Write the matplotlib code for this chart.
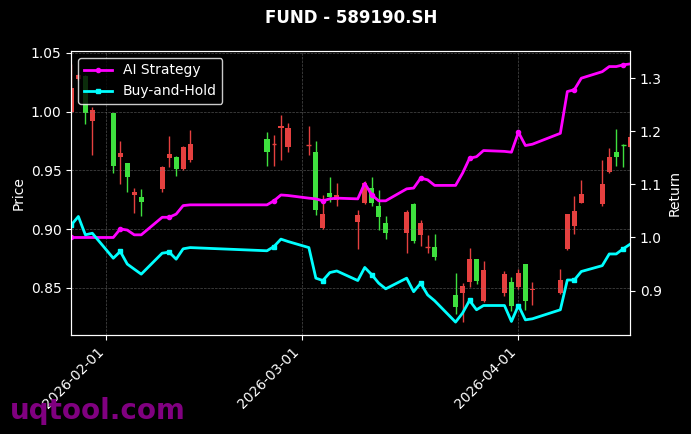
import matplotlib
matplotlib.use("Agg")

import matplotlib.pyplot as plt
import matplotlib.dates as mdates
import pandas as pd

# ---------------------------------------------------------------------------
# Data
# ---------------------------------------------------------------------------
dates = [
    "2026-01-27", "2026-01-28", "2026-01-29", "2026-01-30",
    "2026-02-02", "2026-02-03", "2026-02-04", "2026-02-05", "2026-02-06",
    "2026-02-09", "2026-02-10", "2026-02-11", "2026-02-12", "2026-02-13",
    "2026-02-24", "2026-02-25", "2026-02-26", "2026-02-27",
    "2026-03-02", "2026-03-03", "2026-03-04", "2026-03-05", "2026-03-06",
    "2026-03-09", "2026-03-10", "2026-03-11", "2026-03-12", "2026-03-13",
    "2026-03-16", "2026-03-17", "2026-03-18", "2026-03-19", "2026-03-20",
    "2026-03-23", "2026-03-24", "2026-03-25", "2026-03-26", "2026-03-27",
    "2026-03-30", "2026-03-31", "2026-04-01", "2026-04-02", "2026-04-03",
    "2026-04-07", "2026-04-08", "2026-04-09", "2026-04-10",
    "2026-04-13", "2026-04-14", "2026-04-15", "2026-04-16", "2026-04-17",
]

opens = [
    1.000, 1.028, 1.030, 0.992,
    0.999, 0.961, 0.956, 0.929, 0.927,
    0.934, 0.9605, 0.961, 0.951, 0.959,
    0.977, 0.9725, 0.986, 0.970,
    0.9715, 0.966, 0.901, 0.931, 0.9245,
    0.906, 0.922, 0.935, 0.920, 0.9055,
    0.8965, 0.9216, 0.895, 0.885, 0.885,
    0.844, 0.8455, 0.855, 0.8745, 0.839,
    0.846, 0.855, 0.851, 0.870, 0.848,
    0.8455, 0.883, 0.903, 0.9225,
    0.921, 0.949, 0.9656, 0.972, 0.970,
]
closes = [
    1.020, 1.031, 0.999, 1.001,
    0.954, 0.965, 0.944, 0.932, 0.923,
    0.953, 0.964, 0.951, 0.970, 0.972,
    0.966, 0.973, 0.988, 0.986,
    0.972, 0.916, 0.913, 0.927, 0.929,
    0.912, 0.939, 0.9225, 0.910, 0.897,
    0.915, 0.890, 0.9055, 0.8855, 0.876,
    0.834, 0.8514, 0.8745, 0.856, 0.865,
    0.862, 0.835, 0.8624, 0.839, 0.849,
    0.8567, 0.9126, 0.9154, 0.9295,
    0.9385, 0.961, 0.961, 0.9715, 0.978,
]
highs = [
    1.0405, 1.032, 1.031, 1.004,
    0.999, 0.975, 0.956, 0.935, 0.934,
    0.954, 0.979, 0.962, 0.971, 0.984,
    0.983, 0.980, 0.997, 0.990,
    0.988, 0.975, 0.929, 0.944, 0.939,
    0.916, 0.941, 0.944, 0.933, 0.911,
    0.916, 0.922, 0.908, 0.895, 0.896,
    0.863, 0.854, 0.884, 0.875, 0.873,
    0.8646, 0.8596, 0.866, 0.870, 0.8553,
    0.866, 0.913, 0.928, 0.942,
    0.959, 0.969, 0.985, 0.972, 0.982,
]
lows = [
    0.999, 1.027, 0.989, 0.963,
    0.948, 0.938, 0.932, 0.914, 0.911,
    0.932, 0.953, 0.945, 0.950, 0.957,
    0.954, 0.954, 0.959, 0.966,
    0.963, 0.912, 0.900, 0.923, 0.920,
    0.883, 0.921, 0.920, 0.899, 0.892,
    0.880, 0.888, 0.886, 0.880, 0.874,
    0.828, 0.821, 0.8505, 0.853, 0.838,
    0.8435, 0.8308, 0.849, 0.831, 0.8358,
    0.845, 0.882, 0.896, 0.922,
    0.9196, 0.948, 0.954, 0.953, 0.969,
]

ai_strategy = [
    1.000, 1.000, 1.000, 1.000,
    1.000, 1.016, 1.014, 1.005, 1.005,
    1.038, 1.038, 1.044, 1.060, 1.0614,
    1.0614, 1.069, 1.080, 1.079,
    1.074, 1.0727, 1.069, 1.0727, 1.074,
    1.0727, 1.102, 1.080, 1.069, 1.069,
    1.0915, 1.093, 1.1116, 1.1085, 1.098,
    1.098, 1.121, 1.149, 1.152, 1.1636,
    1.162, 1.1605, 1.198, 1.173, 1.1755,
    1.196, 1.2746, 1.278, 1.2997,
    1.312, 1.3216, 1.3216, 1.3248, 1.3266,
]
buy_hold = [
    1.0238, 1.0395, 1.005, 1.008,
    0.961, 0.9737, 0.950, 0.9404, 0.931,
    0.9705, 0.9724, 0.9592, 0.9787, 0.981,
    0.975, 0.983, 0.9969, 0.9925,
    0.981, 0.9235, 0.919, 0.934, 0.937,
    0.919, 0.9436, 0.930, 0.914, 0.9034,
    0.9235, 0.898, 0.914, 0.892, 0.881,
    0.8408, 0.8577, 0.8815, 0.864, 0.872,
    0.872, 0.842, 0.872, 0.845, 0.847,
    0.864, 0.920, 0.920, 0.936,
    0.947, 0.969, 0.969, 0.9787, 0.9875,
]

title = "FUND - 589190.SH"

UP = "#e5403f"
DOWN = "#3ee03e"

# ---------------------------------------------------------------------------
# Figure
# ---------------------------------------------------------------------------
x = mdates.date2num(pd.to_datetime(dates))

fig = plt.figure(figsize=(6.91, 4.34), dpi=100, facecolor="black")
ax = fig.add_axes([0.1033, 0.2281, 0.8087, 0.6544])
ax.set_facecolor("black")

# candlesticks
for xi, o, c, h, l in zip(x, opens, closes, highs, lows):
    col = UP if c >= o else DOWN
    ax.vlines(xi, l, h, color=col, linewidth=1)
    body = abs(c - o)
    if body < 0.0008:
        ax.hlines((o + c) / 2, xi - 0.35, xi + 0.35, color=col, linewidth=1)
    else:
        ax.bar(xi, body, bottom=min(o, c), width=0.75, color=col, linewidth=0)

ax.set_xlim(x[0], x[-1])
ax.margins(y=0.05)
ax.set_ylabel("Price", color="white")
ax.grid(True, color="gray", linestyle="--", linewidth=0.5, alpha=0.6)

ax2 = ax.twinx()
ax2.plot(x, ai_strategy, color="#ff00ff", linewidth=2, marker="o",
         markersize=3, markevery=5, label="AI Strategy")
ax2.plot(x, buy_hold, color="#00ffff", linewidth=2, marker="s",
         markersize=3, markevery=5, label="Buy-and-Hold")
ax2.set_ylabel("Return", color="white")
ax2.set_xlim(x[0], x[-1])

for a in (ax, ax2):
    a.tick_params(colors="white")
    for sp in a.spines.values():
        sp.set_color("white")

ax.xaxis.set_major_locator(mdates.MonthLocator())
ax.xaxis.set_major_formatter(mdates.DateFormatter("%Y-%m-%d"))
plt.setp(ax.get_xticklabels(), rotation=45, ha="right")

leg = ax2.legend(loc="upper left", facecolor="black", edgecolor="white",
                 labelcolor="white", fontsize=10)

ax.set_title(title, color="white", fontsize=12, fontweight="bold", pad=20)

fig.text(0.014, 0.035, "uqtool.com", color="purple", fontsize=20,
         fontweight="bold")

fig.savefig("out.png", dpi=100, facecolor="black")
